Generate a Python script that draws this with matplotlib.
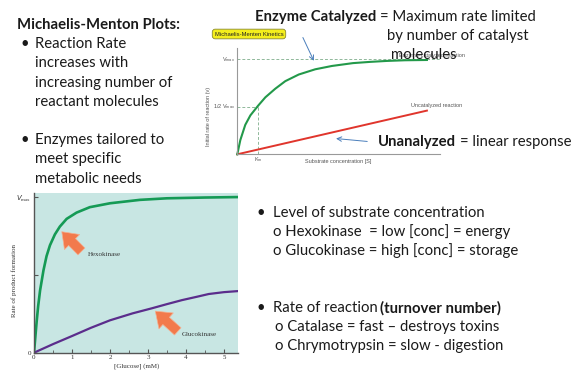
import matplotlib
matplotlib.use('Agg')
import matplotlib.pyplot as plt
from matplotlib.patches import FancyArrowPatch

plt.rcParams['font.family'] = ['Lato', 'DejaVu Sans']

# Top chart: generic Michaelis-Menten curve (fraction of Vmax vs [S])
substrate = [0, 0.16, 0.42, 0.69, 1.09, 1.48, 2.0, 2.53, 3.24, 4.11, 4.99, 6.10, 7.0, 7.88, 8.84, 10.0]
enzyme_rate = [0, 0.15, 0.31, 0.41, 0.51, 0.60, 0.69, 0.77, 0.84, 0.895, 0.93, 0.96, 0.973, 0.983,
               0.99, 0.993]
uncat_substrate = [0, 10.0]
uncat_rate = [0, 0.46]
km_value = 1.11

# Bottom chart: hexokinase vs glucokinase
hexo_glucose = [0, 0.07, 0.11, 0.16, 0.25, 0.33, 0.42, 0.55, 0.68, 0.86, 1.12, 1.47, 2.0,
                2.79, 3.5, 4.5, 5.38]
hexo_rate = [0, 0.20, 0.30, 0.40, 0.53, 0.62, 0.69, 0.76, 0.81, 0.86, 0.90, 0.935, 0.96,
             0.982, 0.992, 0.997, 1.0]
gluco_glucose = [0, 0.5, 1.0, 1.5, 2.0, 2.6, 3.1, 3.5, 3.9, 4.3, 4.6, 5.0, 5.38]
gluco_rate = [0, 0.055, 0.107, 0.16, 0.208, 0.253, 0.285, 0.312, 0.338, 0.36, 0.377, 0.389, 0.396]

W, H = 576, 384


def ftext(x, y, s, **kw):
    """Place text using pixel coords measured from the top-left."""
    return fig.text(x / W, 1 - y / H, s, **kw)


def runs(x, y, parts, gap=3, **kw):
    """Write several text pieces one after another on one line."""
    renderer = fig.canvas.get_renderer()
    for s, weight in parts:
        t = ftext(x, y, s, fontweight=weight, **kw)
        x = t.get_window_extent(renderer).x1 + gap


fig = plt.figure(figsize=(5.76, 3.84), dpi=100)

# ---------- top chart ----------
ax1 = fig.add_axes([237.3 / W, 1 - 154.3 / H, (440 - 237.3) / W, 106 / H])
ax1.set_xlim(0, 10.69)
ax1.set_ylim(0, 1.116)
for s in ['top', 'right']:
    ax1.spines[s].set_visible(False)
for s in ['left', 'bottom']:
    ax1.spines[s].set_color('#999999')
    ax1.spines[s].set_linewidth(0.8)
ax1.set_xticks([])
ax1.set_yticks([])
guide = dict(color='#8fb89a', lw=0.7, ls=(0, (3, 2)))
ax1.axhline(1.0, **guide)
ax1.plot([0, km_value], [0.5, 0.5], **guide)
ax1.plot([km_value, km_value], [0, 0.5], **guide)
ax1.plot(uncat_substrate, uncat_rate, color='#e0352c', lw=1.4, clip_on=False)
ax1.plot(substrate, enzyme_rate, color='#23994a', lw=1.5, clip_on=False)
small = dict(fontsize=4, color='#555555', family=['Liberation Sans', 'DejaVu Sans'])
ax1.text(-0.12, 1.0, r'V$_{\mathregular{max}}$', ha='right', va='center', **small)
ax1.text(-0.12, 0.5, r'1/2 V$_{\mathregular{max}}$', ha='right', va='center', **small)
ax1.text(km_value, -0.06, r'K$_{\mathregular{m}}$', ha='center', va='center', **small)
ax1.text(5.31, -0.08, 'Substrate concentration [S]', ha='center', va='center', **small)
ax1.text(10.53, 0.51, 'Uncatalyzed reaction', ha='center', va='center', **small)
ax1.text(10.26, 1.035, 'Enzyme-catalyzed reaction', ha='center', va='center', **small)
ax1.text(-1.5, 0.4, 'Initial rate of reaction (v)', ha='center', va='center',
         rotation=90, **small)

ftext(249, 34, 'Michaelis-Menten Kinetics', ha='center', va='center', fontsize=4.2,
      color='#222222', family=['Liberation Sans', 'DejaVu Sans'],
      bbox=dict(boxstyle='round,pad=0.4,rounding_size=0.5', fc='#f4ee1c',
                ec='#8a8a30', lw=0.6))

# ---------- bottom chart ----------
ax2 = fig.add_axes([34 / W, 1 - 352.7 / H, (238.3 - 34) / W, 160 / H])
ax2.set_facecolor('#c8e6e3')
ax2.set_xlim(0, 5.38)
ax2.set_ylim(0, 1.028)
for s in ['top', 'right']:
    ax2.spines[s].set_visible(False)
for s in ['left', 'bottom']:
    ax2.spines[s].set_color('#555555')
    ax2.spines[s].set_linewidth(1.0)
ax2.plot(hexo_glucose, hexo_rate, color='#159a55', lw=1.9)
ax2.plot(gluco_glucose, gluco_rate, color='#5b2d8c', lw=1.6)
ax2.set_xticks([0, 1, 2, 3, 4, 5])
ax2.set_xticks([0.5, 1.5, 2.5, 3.5, 4.5], minor=True)
ax2.set_yticks([0, 0.5, 1.0])
ax2.set_yticklabels(['0', '', r'$V_{\mathregular{max}}$'])
ax2.tick_params(direction='in', length=3, width=0.8, color='#555555',
                labelsize=5, pad=2, labelcolor='#333333')
ax2.tick_params(which='minor', direction='in', length=2, width=0.6, color='#555555')
for lbl in ax2.get_xticklabels() + ax2.get_yticklabels():
    lbl.set_family(['Liberation Serif', 'DejaVu Serif'])
serif = dict(fontsize=5, color='#333333', family=['Liberation Serif', 'DejaVu Serif'])
ax2.set_xlabel('[Glucose] (mM)', labelpad=2, **serif)
ax2.set_ylabel('Rate of product formation', **serif)
ax2.yaxis.set_label_coords(-0.085, 0.45)

arrow = dict(arrowstyle='simple,tail_width=0.5,head_width=1.1,head_length=0.75',
             fc='#f27a4c', ec='#f4b090', lw=0.5, mutation_scale=14)
ax2.annotate('', xy=(0.68, 0.79), xytext=(1.30, 0.638), arrowprops=arrow)
ax2.annotate('', xy=(3.14, 0.279), xytext=(3.84, 0.125), arrowprops=arrow)
ax2.text(1.43, 0.634, 'Hexokinase', ha='left', va='center', **serif)
ax2.text(3.89, 0.114, 'Glucokinase', ha='left', va='center', **serif)

# ---------- slide text ----------
body = dict(fontsize=10.7, color='#1a1a1a', va='center')
ftext(17, 25, 'Michaelis-Menton Plots:', fontweight='bold', **body)
ftext(21, 44.3, '•', **body)
ftext(35, 44.3, 'Reaction Rate', **body)
ftext(35, 63.3, 'increases with', **body)
ftext(35, 83.3, 'increasing number of', **body)
ftext(35, 101.7, 'reactant molecules', **body)
ftext(21, 140, '•', **body)
ftext(35, 140, 'Enzymes tailored to', **body)
ftext(35, 159.3, 'meet specific', **body)
ftext(35, 179, 'metabolic needs', **body)

runs(255, 16.7, [('Enzyme Catalyzed', 'bold'), ('= Maximum rate limited', 'normal')], gap=4, **body)
ftext(387, 36, 'by number of catalyst', **body)
ftext(391, 55, 'molecules', **body)
runs(377.7, 141.7, [('Unanalyzed', 'bold'), ('= linear response', 'normal')], gap=4, **body)

blue = dict(arrowstyle='->', color='#4a7ebb', lw=0.7, mutation_scale=8)
fig.add_artist(FancyArrowPatch((301.7 / W, 1 - 35 / H), (315 / W, 1 - 63.3 / H),
                               transform=fig.transFigure, **blue))
fig.add_artist(FancyArrowPatch((370 / W, 1 - 141.7 / H), (333.3 / W, 1 - 138.3 / H),
                               transform=fig.transFigure, **blue))

ftext(256.7, 212.7, '•', **body)
ftext(272.7, 212.7, 'Level of substrate concentration', **body)
ftext(273.3, 231.7, 'o Hexokinase  = low [conc] = energy', **body)
ftext(273.3, 250.7, 'o Glucokinase = high [conc] = storage', **body)
ftext(256.7, 308.3, '•', **body)
runs(272.7, 308.3, [('Rate of reaction', 'normal'), ('(turnover number)', 'bold')], gap=3, **body)
ftext(275, 327.3, 'o Catalase = fast \u2013 destroys toxins', **body)
ftext(275, 346, 'o Chrymotrypsin = slow - digestion', **body)

fig.savefig('out.png', dpi=100)
